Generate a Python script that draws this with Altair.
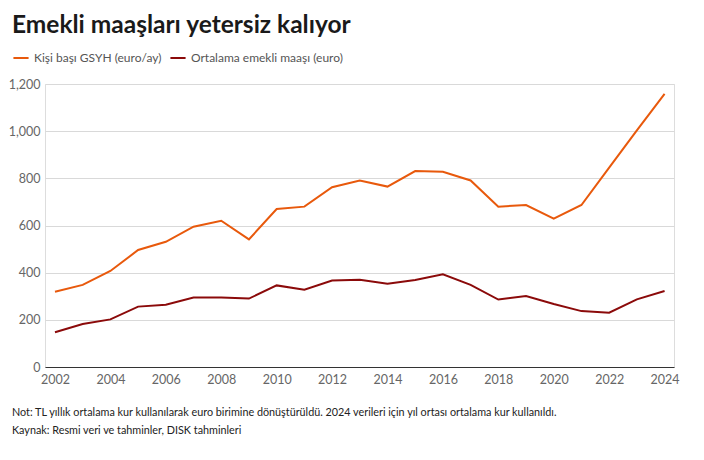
import altair as alt
import pandas as pd

years = list(range(2002, 2025))
gdp_per_capita = [319, 348, 407, 496, 531, 595, 620, 541, 670, 680, 762, 791,
                  765, 831, 828, 791, 680, 687, 629, 687, 845, 1003, 1158]
avg_pension = [147, 182, 202, 256, 264, 295, 295, 290, 346, 328, 367, 370,
               353, 369, 393, 348, 286, 301, 267, 237, 230, 287, 322]
series_names = ["Kişi başı GSYH (euro/ay)", "Ortalama emekli maaşı (euro)"]
series_colors = ["#e8590c", "#8b0a0a"]
y_ticks = [0, 200, 400, 600, 800, 1000, 1200]
x_ticks = list(range(2002, 2025, 2))

title_text = "Emekli maaşları yetersiz kalıyor"
note_text = "Not: TL yıllık ortalama kur kullanılarak euro birimine dönüştürüldü. 2024 verileri için yıl ortası ortalama kur kullanıldı."
source_text = "Kaynak: Resmi veri ve tahminler, DISK tahminleri"

FONT = "Lato"

df = pd.DataFrame({
    "year": years * 2,
    "value": gdp_per_capita + avg_pension,
    "series": [series_names[0]] * len(years) + [series_names[1]] * len(years),
})

lines = alt.Chart(df).mark_line(strokeWidth=2).encode(
    x=alt.X("year:Q",
            scale=alt.Scale(domain=[2001.64, 2024.34], nice=False, zero=False),
            axis=alt.Axis(values=x_ticks, format="d", title=None, ticks=False,
                          grid=False, domain=True, domainColor="#333333",
                          domainWidth=1, labelPadding=6, labelFontSize=12.5,
                          labelColor="#666666", labelFont=FONT)),
    y=alt.Y("value:Q",
            scale=alt.Scale(domain=[0, 1200], nice=False),
            axis=alt.Axis(values=y_ticks, format=",.0f", title=None, ticks=False,
                          domain=False, grid=True, gridColor="#d9d9d9",
                          gridWidth=1, labelPadding=5, labelFontSize=12.5,
                          labelColor="#666666", labelFont=FONT)),
    color=alt.Color("series:N",
                    scale=alt.Scale(domain=series_names, range=series_colors),
                    legend=alt.Legend(title=None, orient="none", direction="horizontal",
                                      legendX=-33, legendY=-35, symbolType="stroke",
                                      symbolSize=230, symbolStrokeWidth=2,
                                      labelFontSize=12, labelFont=FONT,
                                      labelLimit=400,
                                      labelColor="#555555", columnPadding=4,
                                      labelOffset=4)),
)

title = alt.Chart(pd.DataFrame({"t": [title_text]})).mark_text(
    align="left", baseline="alphabetic", fontSize=24.5, fontWeight="bold",
    font=FONT, color="#1a1a1a"
).encode(text="t:N", x=alt.value(-33), y=alt.value(-51))

note = alt.Chart(pd.DataFrame({"t": [note_text]})).mark_text(
    align="left", baseline="middle", fontSize=10.8, font=FONT, color="#222222"
).encode(text="t:N", x=alt.value(-33), y=alt.value(329))

source = alt.Chart(pd.DataFrame({"t": [source_text]})).mark_text(
    align="left", baseline="middle", fontSize=10.8, font=FONT, color="#222222"
).encode(text="t:N", x=alt.value(-33), y=alt.value(347))

chart = alt.layer(lines, title, note, source).properties(
    width=629, height=283,
    autosize=alt.AutoSizeParams(type="none"),
    padding={"left": 45, "top": 84, "right": 30, "bottom": 93},
).configure_view(stroke=None).configure(background="white")

chart.save("out.html", embed_options={"renderer": "svg", "actions": False})
